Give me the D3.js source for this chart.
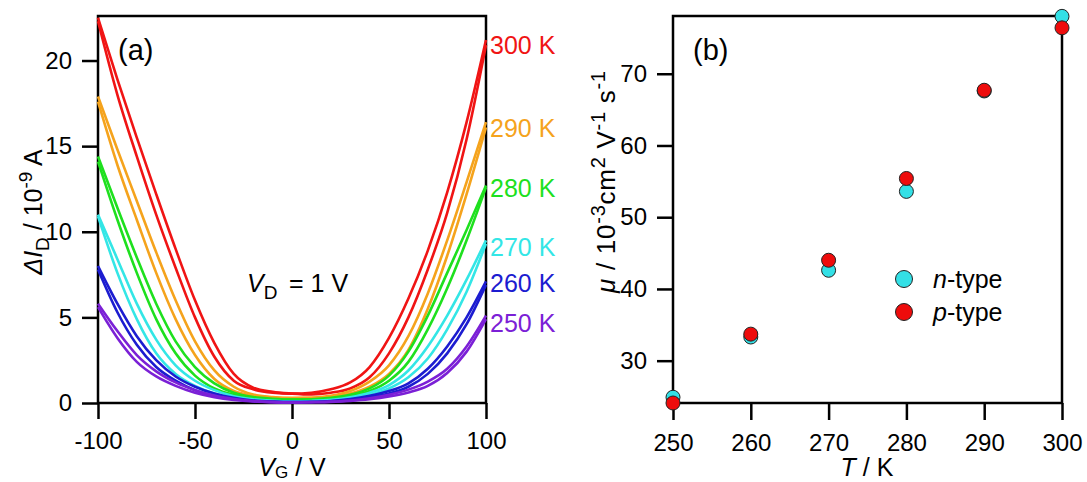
<!DOCTYPE html>
<html>
<head>
<meta charset="utf-8">
<script src="https://cdn.jsdelivr.net/npm/d3@7"></script>
<style>
  body { margin: 0; background: #fff; }
  svg { display: block; font-family: "Liberation Sans", Arial, sans-serif; }
</style>
</head>
<body>
<svg id="fig" width="1087" height="482"></svg>
<script>
// ---------- data: (a) drain-current change vs gate voltage, two sweeps per temperature ----------
const gateV = [-100, -90, -80, -70, -60, -50, -40, -30, -20, -10, 0, 10, 20, 30, 40, 50, 60, 70, 80, 90, 100];

const dI300a = [22.3, 18.0, 14.4, 11.0, 7.9, 5.0, 2.7, 1.3, 0.8, 0.6, 0.55, 0.6, 0.8, 1.2, 2.1, 3.8, 6.1, 8.9, 12.3, 16.4, 21.2];
const dI300b = [22.5, 18.9, 15.5, 12.2, 9.0, 6.0, 3.5, 1.7, 0.9, 0.65, 0.55, 0.5, 0.6, 0.85, 1.5, 2.9, 5.0, 7.8, 11.1, 15.4, 20.9];
const dI290a = [17.6, 13.9, 10.7, 7.6, 4.9, 2.8, 1.4, 0.7, 0.42, 0.32, 0.28, 0.3, 0.42, 0.7, 1.25, 2.2, 3.9, 6.4, 9.5, 12.9, 16.4];
const dI290b = [17.9, 14.8, 11.8, 8.8, 6.0, 3.6, 1.9, 0.95, 0.5, 0.35, 0.3, 0.3, 0.36, 0.55, 0.95, 1.7, 3.1, 5.5, 8.6, 12.2, 16.1];
const dI280a = [14.1, 10.7, 7.6, 4.9, 2.9, 1.6, 0.85, 0.48, 0.3, 0.22, 0.2, 0.22, 0.3, 0.48, 0.85, 1.6, 3.0, 5.1, 7.6, 10.1, 12.7];
const dI280b = [14.4, 11.4, 8.5, 5.8, 3.6, 2.1, 1.15, 0.6, 0.35, 0.25, 0.2, 0.2, 0.25, 0.4, 0.7, 1.3, 2.4, 4.3, 6.7, 9.5, 12.6];
const dI270a = [10.9, 7.6, 4.9, 2.9, 1.7, 1.0, 0.55, 0.3, 0.18, 0.12, 0.1, 0.12, 0.18, 0.33, 0.6, 1.05, 1.9, 3.3, 5.1, 7.2, 9.5];
const dI270b = [11.0, 8.4, 5.8, 3.7, 2.2, 1.3, 0.75, 0.4, 0.22, 0.13, 0.1, 0.1, 0.14, 0.26, 0.48, 0.85, 1.5, 2.6, 4.3, 6.5, 9.3];
const dI260a = [7.8, 5.3, 3.4, 2.1, 1.3, 0.75, 0.42, 0.22, 0.12, 0.07, 0.05, 0.07, 0.12, 0.23, 0.42, 0.7, 1.15, 2.0, 3.3, 5.0, 7.1];
const dI260b = [8.0, 5.8, 3.9, 2.5, 1.55, 0.95, 0.55, 0.3, 0.15, 0.08, 0.05, 0.06, 0.1, 0.19, 0.34, 0.55, 0.95, 1.7, 2.9, 4.6, 6.9];
const dI250a = [5.6, 3.8, 2.4, 1.55, 1.0, 0.6, 0.34, 0.18, 0.09, 0.05, 0.03, 0.05, 0.08, 0.15, 0.28, 0.48, 0.78, 1.25, 2.0, 3.3, 5.1];
const dI250b = [5.8, 4.2, 2.8, 1.85, 1.2, 0.75, 0.43, 0.23, 0.11, 0.05, 0.03, 0.04, 0.06, 0.12, 0.22, 0.38, 0.62, 1.0, 1.75, 3.0, 4.9];

const tempLabels = ["300 K", "290 K", "280 K", "270 K", "260 K", "250 K"];
const sweeps = [[dI300a, dI300b], [dI290a, dI290b], [dI280a, dI280b], [dI270a, dI270b], [dI260a, dI260b], [dI250a, dI250b]];
const vgTicks = [-100, -50, 0, 50, 100];
const dITicks = [0, 5, 10, 15, 20];

// ---------- data: (b) mobility vs temperature ----------
const temperature = [250, 260, 270, 280, 290, 300];
const muN = [24.9, 33.3, 42.6, 53.6, 67.6, 78.0];
const muP = [24.1, 33.7, 44.0, 55.4, 67.7, 76.4];
const tTicks = [250, 260, 270, 280, 290, 300];
const muTicks = [30, 40, 50, 60, 70];

// ---------- styles ----------
const tempColors = ["#f01414", "#f5a31c", "#1ee01e", "#33e6e6", "#1c1cd0", "#7b20d6"];
const nColor = "#33e0e6", pColor = "#ee0c0c";
const tickFont = 24, labelFont = 25;

const svg = d3.select("#fig");

function styleAxis(g) {
  g.attr("font-size", tickFont).attr("font-family", "Liberation Sans, Arial, sans-serif");
  g.select(".domain").remove();
  g.selectAll(".tick line").attr("stroke", "#000").attr("stroke-width", 2.5);
  g.selectAll(".tick text").attr("fill", "#000");
}

// ================= panel (a) =================
const ax = d3.scaleLinear().domain([-100, 100]).range([98, 486]);
const ay = d3.scaleLinear().domain([0, 22.6]).range([403, 16]);

svg.append("g").attr("transform", "translate(0,403)")
  .call(d3.axisBottom(ax).tickValues(vgTicks).tickFormat(d => String(d)).tickSize(16).tickPadding(13).tickSizeOuter(0))
  .call(styleAxis);
svg.append("g").attr("transform", "translate(98,0)")
  .call(d3.axisLeft(ay).tickValues(dITicks).tickFormat(d => String(d)).tickSize(16).tickPadding(10).tickSizeOuter(0))
  .call(styleAxis);

svg.append("rect")
  .attr("x", ax(-100)).attr("y", ay(22.6))
  .attr("width", ax(100) - ax(-100)).attr("height", ay(0) - ay(22.6))
  .attr("fill", "none").attr("stroke", "#000").attr("stroke-width", 2.5);

const curve = d3.line()
  .x((d, i) => ax(gateV[i]))
  .y(d => ay(d))
  .curve(d3.curveMonotoneX);

const curveG = svg.append("g");
sweeps.forEach((pair, k) => {
  pair.forEach(vals => {
    curveG.append("path")
      .attr("d", curve(vals))
      .attr("fill", "none")
      .attr("stroke", tempColors[k])
      .attr("stroke-width", 2.6)
      .attr("stroke-linejoin", "round");
  });
});

// temperature labels next to the right axis
const tempLabelBaseline = [54, 137, 197, 256, 292, 332];
tempLabels.forEach((t, k) => {
  svg.append("text")
    .attr("x", 490).attr("y", tempLabelBaseline[k])
    .attr("font-size", labelFont).attr("fill", tempColors[k])
    .text(t);
});

svg.append("text").attr("x", 118).attr("y", 60).attr("font-size", 29).text("(a)");

// V_D annotation
const vd = svg.append("text").attr("x", 247).attr("y", 292).attr("font-size", labelFont);
vd.append("tspan").attr("font-style", "italic").text("V");
vd.append("tspan").attr("font-size", 19).attr("dy", 7).text("D");
vd.append("tspan").attr("x", 289).attr("dy", -7).text("= 1 V");

// x title
const xa = svg.append("text").attr("x", 292).attr("y", 476).attr("font-size", labelFont).attr("text-anchor", "middle");
xa.append("tspan").attr("font-style", "italic").text("V");
xa.append("tspan").attr("font-size", 17).attr("dy", 2).text("G");
xa.append("tspan").attr("dy", -2).text(" / V");

// y title
const ya = svg.append("text").attr("transform", "translate(42,212) rotate(-90)")
  .attr("font-size", labelFont).attr("text-anchor", "middle");
ya.append("tspan").attr("font-style", "italic").text("\u0394I");
ya.append("tspan").attr("font-size", 19).attr("dy", 7).text("D");
ya.append("tspan").attr("dy", -7).text(" / 10");
ya.append("tspan").attr("font-size", 19).attr("dy", -10).text("-9");
ya.append("tspan").attr("dy", 10).text(" A");

// ================= panel (b) =================
const bx = d3.scaleLinear().domain([250, 300]).range([673, 1062]);
const by = d3.scaleLinear().domain([24.1, 78.05]).range([403, 16]);

svg.append("g").attr("transform", "translate(0,403)")
  .call(d3.axisBottom(bx).tickValues(tTicks).tickFormat(d => String(d)).tickSize(17).tickPadding(14).tickSizeOuter(0))
  .call(styleAxis);
svg.append("g").attr("transform", "translate(673,0)")
  .call(d3.axisLeft(by).tickValues(muTicks).tickFormat(d => String(d)).tickSize(16).tickPadding(10).tickSizeOuter(0))
  .call(styleAxis);

svg.append("rect")
  .attr("x", bx(250)).attr("y", by(78.05))
  .attr("width", bx(300) - bx(250)).attr("height", by(24.1) - by(78.05))
  .attr("fill", "none").attr("stroke", "#000").attr("stroke-width", 2.5);

svg.append("text").attr("x", 693).attr("y", 60).attr("font-size", 29).text("(b)");

const pts = svg.append("g");
pts.selectAll("circle.n").data(muN).join("circle")
  .attr("class", "n")
  .attr("cx", (d, i) => bx(temperature[i])).attr("cy", d => by(d)).attr("r", 7)
  .attr("fill", nColor).attr("stroke", "#222").attr("stroke-width", 1);
pts.selectAll("circle.p").data(muP).join("circle")
  .attr("class", "p")
  .attr("cx", (d, i) => bx(temperature[i])).attr("cy", d => by(d)).attr("r", 7)
  .attr("fill", pColor).attr("stroke", "#222").attr("stroke-width", 1);

// legend
const legend = [["n", nColor, 279], ["p", pColor, 312]];
legend.forEach(([letter, col, cy]) => {
  svg.append("circle").attr("cx", 904).attr("cy", cy).attr("r", 8.5)
    .attr("fill", col).attr("stroke", "#222").attr("stroke-width", 1);
  const t = svg.append("text").attr("x", 933).attr("y", cy + 9).attr("font-size", labelFont);
  t.append("tspan").attr("font-style", "italic").text(letter);
  t.append("tspan").text("-type");
});

// x title
const xb = svg.append("text").attr("x", 867).attr("y", 476).attr("font-size", labelFont).attr("text-anchor", "middle");
xb.append("tspan").attr("font-style", "italic").text("T");
xb.append("tspan").text(" / K");

// y title, spread over the height used by the printed label
const yb = svg.append("text").attr("transform", "translate(615,182) rotate(-90)")
  .attr("font-size", 26).attr("text-anchor", "middle")
  .attr("textLength", 222).attr("lengthAdjust", "spacing");
yb.append("tspan").attr("font-style", "italic").text("\u03bc");
yb.append("tspan").text(" / 10");
yb.append("tspan").attr("font-size", 20).attr("dy", -10).text("-3");
yb.append("tspan").attr("dy", 10).text("cm");
yb.append("tspan").attr("font-size", 20).attr("dy", -10).text("2");
yb.append("tspan").attr("dy", 10).text(" V");
yb.append("tspan").attr("font-size", 20).attr("dy", -10).text("-1");
yb.append("tspan").attr("dy", 10).text(" s");
yb.append("tspan").attr("font-size", 20).attr("dy", -10).text("-1");
</script>
</body>
</html>
